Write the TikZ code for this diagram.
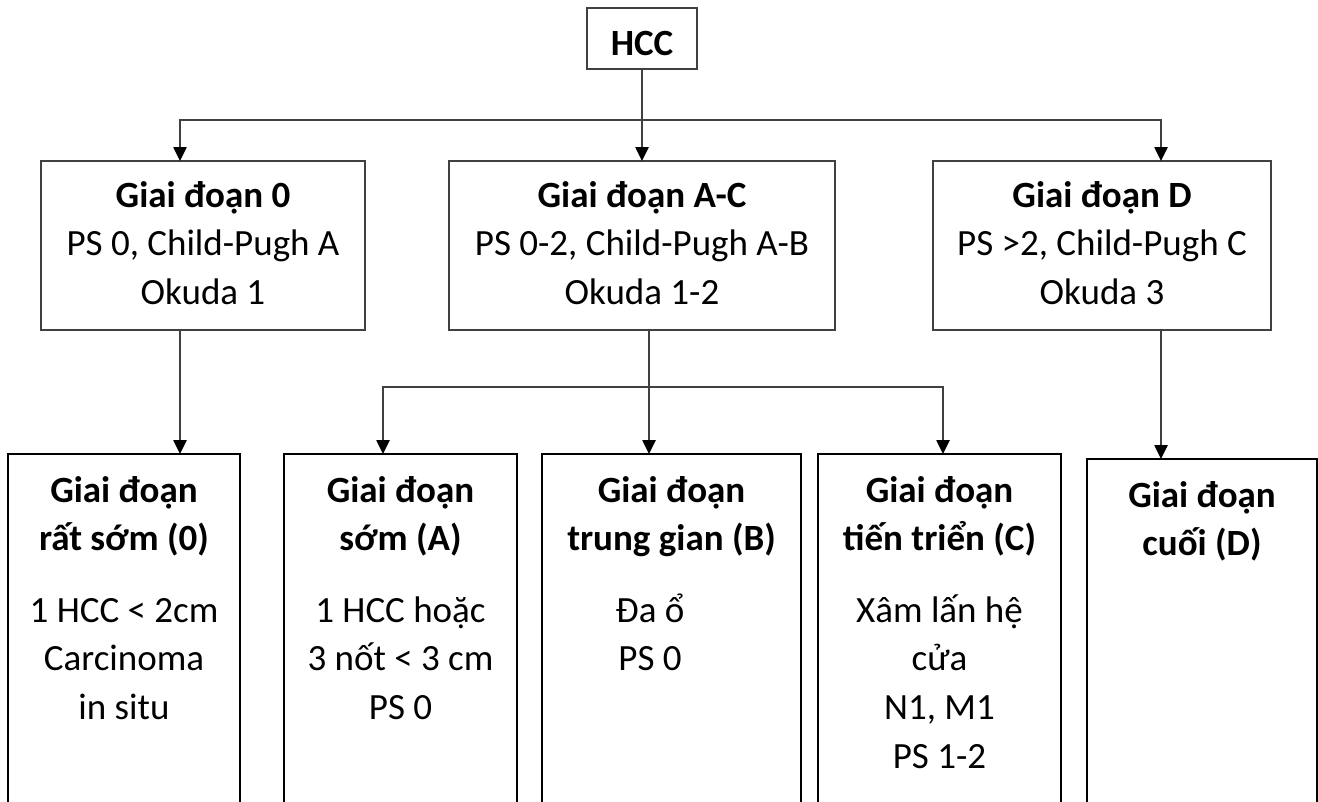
\documentclass[tikz,border=0pt]{standalone}
\usepackage{fontspec}
\setmainfont{Carlito}
\usetikzlibrary{arrows.meta}
\definecolor{linegray}{HTML}{404040}
\newcommand\mlines[1]{\begin{tabular}[t]{@{}c@{}}#1\end{tabular}}
\begin{document}
\begin{tikzpicture}[x=0.75pt,y=-0.75pt,
  topbox/.style={draw=linegray, line width=1.1pt, inner sep=0pt, outer sep=0pt},
  botbox/.style={draw=black, line width=1.8pt, inner sep=0pt, outer sep=0pt},
  conn/.style={draw=linegray, line width=1.1pt},
  arr/.style={conn, -{Triangle[length=10.5pt,width=10pt,color=black]}},
  txt/.style={inner sep=0pt, outer sep=0pt, anchor=base, font=\fontsize{27.75}{36.5}\selectfont},
  txtb/.style={txt, font=\fontsize{27.75}{36.5}\selectfont\bfseries},
]
\useasboundingbox (0,0) rectangle (1318,801);
\fill[white] (0,0) rectangle (1318,801);

% top level
\node[topbox, minimum width=82.5pt, minimum height=45.75pt] (hcc) at (642,38.5) {};
\node[txtb] (hcct) at (642,55) {HCC};

% second row
\node[topbox, minimum width=243pt, minimum height=126.75pt] (t0) at (203,245.5) {};
\node[topbox, minimum width=289.5pt, minimum height=126.75pt] (tac) at (642,245.5) {};
\node[topbox, minimum width=253.5pt, minimum height=126.75pt] (td) at (1102,245.5) {};
\node[txt] (t0x) at (203,207) {\mlines{\bfseries Giai đoạn 0\\PS 0, Child-Pugh A\\Okuda 1}};
\node[txt] (tacx) at (642,207) {\mlines{\bfseries Giai đoạn A-C\\PS 0-2, Child-Pugh A-B\\Okuda 1-2}};
\node[txt] (tdx) at (1102,207) {\mlines{\bfseries Giai đoạn D\\PS >2, Child-Pugh C\\Okuda 3}};

% bottom row (open at the bottom edge of the picture)
\node[botbox, minimum width=174pt, minimum height=282pt] (b0) at (124,642) {};
\node[botbox, minimum width=174.75pt, minimum height=282pt] (bA) at (400.5,642) {};
\node[botbox, minimum width=194.25pt, minimum height=282pt] (bB) at (671.5,642) {};
\node[botbox, minimum width=182.25pt, minimum height=282pt] (bC) at (939.5,642) {};
\node[botbox, minimum width=172.5pt, minimum height=278.25pt] (bD) at (1202,644.5) {};

\node[txtb] (b0h) at (124,502) {\mlines{Giai đoạn\\rất sớm (0)}};
\node[txtb] (bAh) at (400.5,502) {\mlines{Giai đoạn\\sớm (A)}};
\node[txtb] (bBh) at (671.5,502) {\mlines{Giai đoạn\\trung gian (B)}};
\node[txtb] (bCh) at (939.5,502) {\mlines{Giai đoạn\\tiến triển (C)}};
\node[txtb] (bDh) at (1202,507) {\mlines{Giai đoạn\\cuối (D)}};

\node[txt] (b0b) at (124,622) {\mlines{1 HCC < 2cm\\Carcinoma\\in situ}};
\node[txt] (bAb) at (400.5,622) {\mlines{1 HCC hoặc\\3 nốt < 3 cm\\PS 0}};
\node[txt] (bBb) at (650,622) {\mlines{Đa ổ\\PS 0}};
\node[txt] (bCb) at (939.5,622) {\mlines{Xâm lấn hệ\\cửa\\N1, M1\\PS 1-2}};

% connector helpers
\coordinate (j1) at (642,120);
\coordinate (j2) at (649,387);
\coordinate (xa) at (180,0);
\coordinate (xd) at (1161,0);
\coordinate (xA) at (383,0);
\coordinate (xC) at (943,0);

\draw[conn] (hcc.south) -- (j1);
\draw[arr] (j1) -| (t0.north -| xa);
\draw[arr] (j1) -| (td.north -| xd);
\draw[arr] (j1) -- (tac.north);

\draw[conn] (tac.south -| j2) -- (j2);
\draw[arr] (j2) -| (bA.north -| xA);
\draw[arr] (j2) -- (bB.north -| j2);
\draw[arr] (j2) -| (bC.north -| xC);

\draw[arr] (t0.south -| xa) -- (b0.north -| xa);
\draw[arr] (td.south -| xd) -- (bD.north -| xd);
\end{tikzpicture}
\end{document}
